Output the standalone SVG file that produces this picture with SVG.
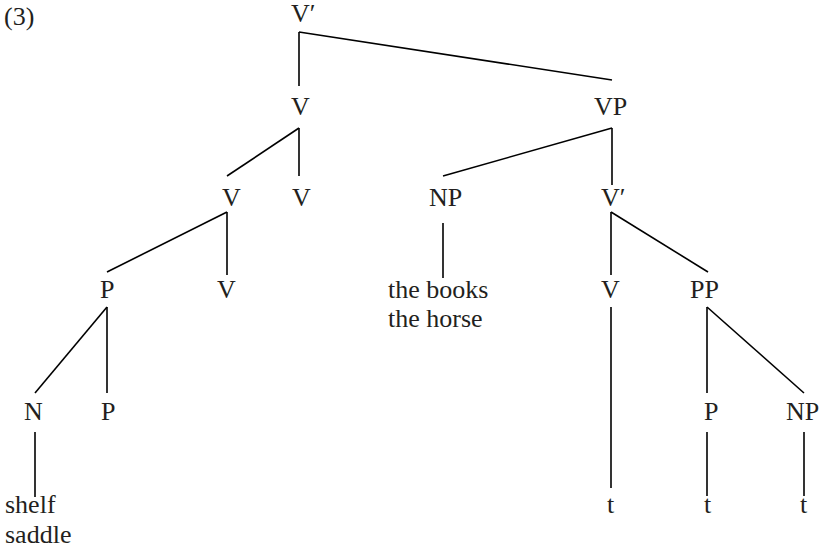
<svg xmlns="http://www.w3.org/2000/svg" width="821" height="548" viewBox="0 0 821 548">
<style>
text{font-family:"Liberation Serif","Times New Roman",serif;font-size:26px;fill:#231f20}
.e line{stroke:#000;stroke-width:1.6;stroke-linecap:butt}
</style>
<rect width="821" height="548" fill="#fff"/>
<g id="label"><text x="4" y="25">(3)</text></g>
<g class="e" id="connectors">
<line x1="299" y1="32" x2="299" y2="86"/>
<line x1="299" y1="32" x2="612" y2="80"/>
<line x1="299" y1="128" x2="299" y2="176"/>
<line x1="299" y1="128" x2="227" y2="176"/>
<line x1="612" y1="128" x2="443" y2="176"/>
<line x1="612" y1="128" x2="612" y2="185"/>
<line x1="227" y1="212" x2="227" y2="275"/>
<line x1="227" y1="212" x2="107" y2="272"/>
<line x1="443" y1="223" x2="443" y2="278"/>
<line x1="611" y1="212" x2="611" y2="275"/>
<line x1="611" y1="212" x2="708" y2="272"/>
<line x1="107" y1="307" x2="107" y2="393"/>
<line x1="107" y1="307" x2="35" y2="393"/>
<line x1="611" y1="307" x2="611" y2="488"/>
<line x1="707" y1="307" x2="707" y2="393"/>
<line x1="707" y1="307" x2="804" y2="393"/>
<line x1="35" y1="432" x2="35" y2="497"/>
<line x1="707" y1="432" x2="707" y2="496"/>
<line x1="804" y1="432" x2="804" y2="496"/>
</g>
<g id="n-vbar-top"><text x="291" y="22">V′</text></g>
<g id="n-v2"><text x="291" y="115">V</text></g>
<g id="n-vp"><text x="594" y="115">VP</text></g>
<g id="n-v3a"><text x="222" y="206">V</text></g>
<g id="n-v3b"><text x="292" y="206">V</text></g>
<g id="n-np1"><text x="429" y="206">NP</text></g>
<g id="n-vbar2"><text x="601" y="206">V′</text></g>
<g id="n-p4"><text x="100" y="298">P</text></g>
<g id="n-v4"><text x="217" y="298">V</text></g>
<g id="n-np1-words"><text x="388" y="298">the books</text><text x="388" y="327">the horse</text></g>
<g id="n-v4b"><text x="601" y="298">V</text></g>
<g id="n-pp"><text x="690" y="298">PP</text></g>
<g id="n-n5"><text x="24" y="420">N</text></g>
<g id="n-p5"><text x="101" y="420">P</text></g>
<g id="n-p5b"><text x="704" y="420">P</text></g>
<g id="n-np5"><text x="786" y="420">NP</text></g>
<g id="n-n-words"><text x="5" y="513">shelf</text><text x="5" y="543">saddle</text></g>
<g id="n-t1"><text x="607" y="513">t</text></g>
<g id="n-t2"><text x="704" y="513">t</text></g>
<g id="n-t3"><text x="800" y="513">t</text></g>
</svg>
